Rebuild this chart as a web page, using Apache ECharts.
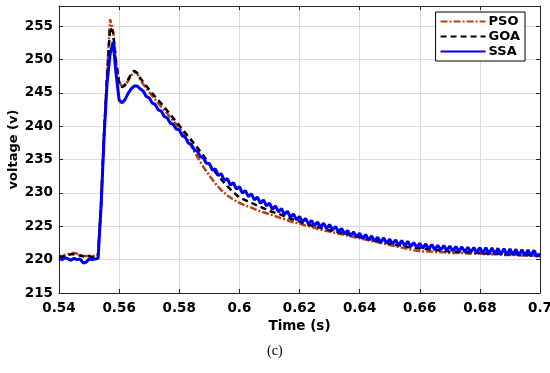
<!DOCTYPE html>
<html><head><meta charset="utf-8">
<script src="https://cdn.jsdelivr.net/npm/echarts@6/dist/echarts.min.js"></script>
<style>html,body{margin:0;padding:0;background:#fff}#c{width:550px;height:373px}</style>
</head><body><div id="c"></div>
<script>
const xTicks = {min: 0.54, max: 0.70, interval: 0.02};
const yTicks = {min: 215, max: 258, interval: 5};
const seriesNames = ['PSO', 'GOA', 'SSA'];

const psoTime = [0.540,0.541,0.542,0.543,0.544,0.545,0.546,0.547,0.548,0.549,0.550,0.551,0.552,0.553,0.554,0.555,0.556,0.557,0.558,0.559,0.560,0.561,0.562,0.563,0.564,0.565,0.566,0.567,0.568,
0.570,0.572,0.574,0.576,0.578,0.580,0.582,0.584,0.586,0.588,0.590,0.592,0.594,0.596,0.598,
0.600,0.602,0.604,0.606,0.608,0.610,0.612,0.614,0.616,0.618,0.620,0.622,0.624,0.626,0.628,0.630,0.632,0.634,0.636,0.638,0.640,0.642,0.644,0.646,0.648,0.650,0.652,0.654,0.656,0.658,0.660,0.662,0.664,0.666,0.668,0.670,0.672,0.674,0.676,0.678,0.680,0.682,0.684,0.686,0.688,0.690,0.692,0.694,0.696,0.698,0.700];
const psoVolt = [220.6,220.5,220.7,220.8,221.0,221.0,220.9,220.7,220.6,220.5,220.6,220.5,220.6,220.8,228.5,239.0,248.0,256.0,254.2,249.5,246.6,245.9,246.1,246.8,247.6,248.1,247.9,247.0,246.3,
245.1,244.0,242.9,241.9,240.8,239.8,238.5,237.0,235.4,233.9,232.6,231.4,230.4,229.6,229.0,
228.5,228.1,227.8,227.4,227.1,226.8,226.5,226.2,225.9,225.6,225.4,225.1,224.9,224.6,224.4,224.2,224.0,223.8,223.6,223.4,223.2,223.0,222.8,222.6,222.4,222.2,222.0,221.8,221.6,221.4,221.3,221.2,221.2,221.1,221.1,221.0,221.0,221.0,220.9,220.9,220.9,220.8,220.8,220.8,220.7,220.7,220.7,220.6,220.6,220.6,220.5];

const goaTime = psoTime.slice();
const goaVolt = [220.5,220.4,220.5,220.7,220.8,220.8,220.7,220.6,220.5,220.4,220.5,220.4,220.5,220.6,228.2,238.8,247.5,254.8,254.0,249.6,246.6,245.8,246.2,247.0,247.8,248.3,248.0,247.2,246.6,
245.5,244.4,243.4,242.3,241.2,240.1,239.0,237.9,236.8,235.6,234.3,233.1,232.0,231.0,230.1,
229.3,228.9,228.5,228.1,227.7,227.3,227.0,226.7,226.3,226.0,225.7,225.4,225.1,224.9,224.6,224.4,224.2,224.0,223.8,223.6,223.4,223.2,223.0,222.8,222.6,222.4,222.2,222.1,221.9,221.8,221.7,221.6,221.5,221.4,221.3,221.2,221.2,221.1,221.1,221.0,221.0,220.9,220.9,220.9,220.8,220.8,220.8,220.7,220.7,220.7,220.6];

const ssaTime = [0.540,0.541,0.542,0.543,0.544,0.545,0.546,0.547,0.548,0.549,0.550,0.551,0.552,0.553,0.554,0.555,0.556,0.557,0.558,0.559,
0.560,0.561,0.562,0.563,0.564,0.565,0.566,0.567,0.568,0.569,0.570,0.571,0.572,0.573,0.574,0.575,0.576,0.577,0.578,0.579,
0.580,0.581,0.582,0.583,0.584,0.585,0.586,0.587,0.588,0.589,0.590,0.591,0.592,0.593,0.594,0.595,0.596,0.597,0.598,0.599,
0.600,0.601,0.602,0.603,0.604,0.605,0.606,0.607,0.608,0.609,0.610,0.611,0.612,0.613,0.614,0.615,0.616,0.617,0.618,0.619,
0.620,0.621,0.622,0.623,0.624,0.625,0.626,0.627,0.628,0.629,0.630,0.631,0.632,0.633,0.634,0.635,0.636,0.637,0.638,0.639,
0.640,0.641,0.642,0.643,0.644,0.645,0.646,0.647,0.648,0.649,0.650,0.651,0.652,0.653,0.654,0.655,0.656,0.657,0.658,0.659,
0.660,0.661,0.662,0.663,0.664,0.665,0.666,0.667,0.668,0.669,0.670,0.671,0.672,0.673,0.674,0.675,0.676,0.677,0.678,0.679,
0.680,0.681,0.682,0.683,0.684,0.685,0.686,0.687,0.688,0.689,0.690,0.691,0.692,0.693,0.694,0.695,0.696,0.697,0.698,0.699,0.700];
const ssaVolt = [220.2,220.0,220.3,220.1,219.9,220.2,220.0,220.1,219.5,219.6,220.1,220.0,220.1,220.2,228.0,238.5,246.5,250.8,252.6,247.8,
243.9,243.5,244.0,244.9,245.6,246.0,246.0,245.6,245.25,244.45,244.25,243.45,243.25,242.45,242.25,241.45,241.25,240.45,240.25,239.55,
239.45,238.55,238.35,237.45,237.25,236.45,236.25,235.45,235.25,234.45,234.4,233.4,233.6,232.6,232.85,231.85,232.15,231.15,231.55,230.55,
230.95,229.95,230.35,229.45,229.85,228.95,229.35,228.45,228.95,228.05,228.45,227.55,228.05,227.15,227.65,226.75,227.25,226.35,226.85,225.95,
226.45,225.65,226.15,225.35,225.85,225.05,225.65,224.85,225.45,224.65,225.25,224.45,224.95,224.15,224.65,223.85,224.35,223.55,224.15,223.35,
223.95,223.15,223.75,222.95,223.55,222.75,223.35,222.55,223.25,222.45,223.05,222.35,222.95,222.15,222.85,222.05,222.75,221.95,222.55,221.85,
222.45,221.7,222.35,221.6,222.25,221.5,222.15,221.45,222.1,221.35,222.05,221.3,221.95,221.25,221.9,221.15,221.85,221.1,221.8,221.05,
221.8,220.92,221.8,220.87,221.75,220.82,221.7,220.77,221.65,220.72,221.6,220.67,221.55,220.62,221.5,220.57,221.45,220.52,221.4,220.47,220.9];

const zip = (t, v) => t.map((x, i) => [x, v[i]]);
const font = 'DejaVu Sans';
const chart = echarts.init(document.getElementById('c'), null, {renderer: 'canvas'});
const axisLine = {show: true, lineStyle: {color: '#262626', width: 1}};
chart.setOption({
  animation: false,
  backgroundColor: '#fff',
  grid: {left: 59, right: 10, top: 6, bottom: 80, containLabel: false, outerBoundsMode: 'none'},
  xAxis: [{
    type: 'value', min: xTicks.min, max: xTicks.max, interval: xTicks.interval,
    name: 'Time (s)', nameLocation: 'middle', nameGap: 26,
    nameTextStyle: {fontFamily: font, fontWeight: 'bold', fontSize: 13.5, color: '#000'},
    axisLine: axisLine,
    axisTick: {show: true, inside: true, length: 4, lineStyle: {color: '#262626'}},
    axisLabel: {margin: 8, fontFamily: font, fontWeight: 'bold', fontSize: 13.5, color: '#000',
      formatter: v => String(parseFloat(v.toFixed(2)))},
    splitLine: {show: true, lineStyle: {color: '#dcdcdc', width: 1}}
  }, {
    type: 'value', position: 'top', min: xTicks.min, max: xTicks.max, interval: xTicks.interval,
    axisLine: axisLine,
    axisTick: {show: true, inside: true, length: 4, lineStyle: {color: '#262626'}},
    axisLabel: {show: false}, splitLine: {show: false}
  }],
  yAxis: [{
    type: 'value', min: yTicks.min, max: yTicks.max, interval: yTicks.interval,
    name: 'voltage (v)', nameLocation: 'middle', nameGap: 39, nameRotate: 90, nameMoveOverlap: false,
    nameTextStyle: {fontFamily: font, fontWeight: 'bold', fontSize: 13, color: '#000'},
    axisLine: axisLine,
    axisTick: {show: true, inside: true, length: 4, lineStyle: {color: '#262626'}},
    axisLabel: {margin: 6, fontFamily: font, fontWeight: 'bold', fontSize: 13.5, color: '#000', showMaxLabel: false},
    splitLine: {show: true, lineStyle: {color: '#dcdcdc', width: 1}}
  }, {
    type: 'value', position: 'right', min: yTicks.min, max: yTicks.max, interval: yTicks.interval,
    axisLine: axisLine,
    axisTick: {show: true, inside: true, length: 4, lineStyle: {color: '#262626'}},
    axisLabel: {show: false}, splitLine: {show: false}
  }],
  legend: {
    data: seriesNames, orient: 'vertical', right: 25, top: 12,
    backgroundColor: '#fff', borderColor: '#000', borderWidth: 1, borderRadius: 0,
    padding: [3, 5, 3, 4], itemGap: 2, itemWidth: 45, itemHeight: 12,
    itemStyle: {color: 'transparent', borderColor: 'transparent', borderWidth: 0, opacity: 0},
    textStyle: {fontFamily: font, fontWeight: 'bold', fontSize: 13, color: '#000', padding: [0, 0, 0, -2]}
  },
  series: [{
    name: seriesNames[0], type: 'line', data: zip(psoTime, psoVolt), symbol: 'none',
    lineStyle: {color: '#b4401c', width: 2.5, type: [7, 2, 2, 2]}, itemStyle: {color: '#b4401c'}, z: 2
  }, {
    name: seriesNames[1], type: 'line', data: zip(goaTime, goaVolt), symbol: 'none',
    lineStyle: {color: '#000', width: 2.5, type: [6, 4]}, itemStyle: {color: '#000'}, z: 3
  }, {
    name: seriesNames[2], type: 'line', data: zip(ssaTime, ssaVolt), symbol: 'none',
    lineStyle: {color: '#0000f0', width: 3}, itemStyle: {color: '#0000f0'}, z: 4
  }],
  graphic: [{
    type: 'text', left: 267, top: 344,
    style: {text: '(c)', font: '14px "Liberation Serif"', fill: '#000'}
  }]
});
</script></body></html>
